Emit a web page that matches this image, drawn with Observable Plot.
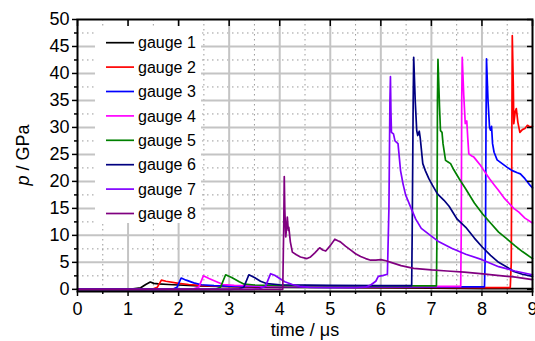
<!DOCTYPE html>
<html><head><meta charset="utf-8">
<script src="https://cdn.jsdelivr.net/npm/d3@7"></script>
<script src="https://cdn.jsdelivr.net/npm/@observablehq/plot@0.6"></script>
<style>body{margin:0;background:#fff}</style>
</head><body><div id="chart"></div>
<script>
const gaugeNames = ["gauge 1","gauge 2","gauge 3","gauge 4","gauge 5","gauge 6","gauge 7","gauge 8"];
const gaugeColors = ["#000000","#ff0000","#0000ff","#ff00ff","#008000","#000080","#8000ff","#800080"];
const xTickValues = [0,1,2,3,4,5,6,7,8,9];
const xMinorValues = [0.5,1.5,2.5,3.5,4.5,5.5,6.5,7.5,8.5];
const yTickValues = [0,5,10,15,20,25,30,35,40,45,50];
const yMinorValues = [2.5,7.5,12.5,17.5,22.5,27.5,32.5,37.5,42.5,47.5];
const xLabel = "time / μs";

const gauge1 = [[0,0],[0.9,0],[1.1,0.1],[1.25,0.3],[1.35,0.9],[1.44,1.35],[1.51,1.1],[1.6,1.0],[1.8,0.9],[2.0,0.8],[2.4,0.65],[3.0,0.5],[4.0,0.35],[5,0.3],[6,0.25],[7,0.2],[8,0.15],[9,0.15]];
const gauge2 = [[0,0],[1.3,0],[1.5,0.1],[1.58,0.4],[1.66,1.7],[1.75,1.5],[2.0,1.1],[2.2,0.9],[2.5,0.7],[3,0.55],[4,0.45],[5,0.4],[6,0.35],[7,0.35],[8,0.3],[8.56,0.3],[8.58,5],[8.59,25],[8.60,47],[8.62,38],[8.63,30.7],[8.66,33],[8.68,33.5],[8.71,31],[8.75,29.1],[8.8,29.6],[8.85,29.8],[8.9,30.4],[8.95,30.1],[9,30.2]];
const gauge3 = [[0,0],[1.7,0],[1.9,0.1],[1.97,0.4],[2.05,2.1],[2.15,1.7],[2.3,1.2],[2.45,0.85],[2.7,0.7],[3,0.6],[4,0.5],[5,0.45],[6,0.45],[7,0.45],[8.05,0.45],[8.07,8],[8.08,30],[8.09,42.7],[8.12,35],[8.15,30],[8.17,29.5],[8.19,30.2],[8.21,27],[8.24,25.4],[8.3,24],[8.4,23.3],[8.5,22.6],[8.6,22],[8.7,21.6],[8.76,21.4],[8.85,20.5],[8.95,19.3],[9,18.8]];
const gauge4 = [[0,0],[2.1,0],[2.3,0.1],[2.4,0.4],[2.49,2.5],[2.6,2.0],[2.75,1.4],[2.88,0.9],[3.1,0.75],[3.5,0.65],[4,0.6],[5,0.55],[6,0.55],[7,0.55],[7.58,0.55],[7.59,10],[7.60,35],[7.61,43],[7.64,36],[7.67,30.7],[7.70,31.2],[7.72,28],[7.74,25.1],[7.8,24.7],[7.84,24.5],[7.9,23.8],[7.97,23],[8.04,22],[8.15,20.5],[8.24,19.4],[8.33,18.3],[8.45,16.8],[8.63,15],[8.73,14.3],[8.85,13.2],[9,12.3]];
const gauge5 = [[0,0],[2.55,0],[2.75,0.1],[2.83,0.4],[2.93,2.7],[3.05,2.2],[3.2,1.4],[3.3,0.95],[3.5,0.8],[4,0.7],[5,0.65],[6,0.65],[7,0.65],[7.10,0.65],[7.11,10],[7.12,35],[7.13,42.6],[7.16,34],[7.18,29.4],[7.21,29.1],[7.23,27],[7.28,23.9],[7.33,23.6],[7.38,23.3],[7.44,22.2],[7.55,20.5],[7.68,18.6],[7.85,16],[8.01,14],[8.17,12.3],[8.33,10.6],[8.5,9.3],[8.65,8.1],[8.8,7.0],[9,5.7]];
const gauge6 = [[0,0],[3.0,0],[3.2,0.1],[3.29,0.4],[3.39,2.7],[3.5,2.2],[3.62,1.5],[3.75,1.05],[4,0.85],[5,0.75],[6,0.7],[6.61,0.7],[6.62,10],[6.64,35],[6.65,43],[6.68,35],[6.71,29.4],[6.73,28.5],[6.76,29.3],[6.78,28],[6.83,23.3],[6.88,22],[6.95,20.5],[7.02,19.3],[7.12,17.7],[7.25,16.5],[7.35,15.4],[7.51,13],[7.68,11.5],[7.85,9.5],[8.01,7.8],[8.17,6.3],[8.33,5.0],[8.5,4.1],[8.63,3.3],[8.8,2.8],[9,2.4]];
const gauge7 = [[0,0],[3.45,0],[3.6,0.1],[3.72,0.6],[3.82,2.9],[3.9,2.6],[4.0,2.0],[4.1,1.4],[4.25,0.9],[4.4,0.55],[4.6,0.35],[5,0.3],[5.5,0.3],[5.7,0.4],[5.8,0.8],[5.9,1.5],[5.95,2.4],[6.05,2.6],[6.13,2.8],[6.16,15],[6.18,35],[6.19,39.4],[6.20,33],[6.21,29.1],[6.25,28.8],[6.28,27.5],[6.34,27],[6.39,22],[6.44,19.5],[6.49,17.5],[6.6,15],[6.69,13],[6.8,11.3],[6.98,10],[7.15,8.8],[7.4,7.6],[7.68,6.5],[8.0,5.5],[8.33,4.2],[8.65,3.4],[9,2.7]];
const gauge8 = [[0,0],[4.06,0],[4.08,12],[4.09,20.9],[4.1,15],[4.12,9.7],[4.15,13.4],[4.17,10.9],[4.18,11.5],[4.21,8.8],[4.25,6.9],[4.33,6.4],[4.41,6.0],[4.54,5.7],[4.61,6.0],[4.7,6.8],[4.79,7.7],[4.85,7.3],[4.91,7.1],[5.0,8.1],[5.09,9.3],[5.15,9.0],[5.2,8.8],[5.3,8.0],[5.4,7.3],[5.5,6.6],[5.6,6.1],[5.7,5.7],[5.8,5.4],[5.9,5.4],[6.0,5.5],[6.1,5.3],[6.2,5.0],[6.4,4.4],[6.65,3.9],[7.0,3.6],[7.31,3.4],[7.65,3.2],[7.97,2.9],[8.3,2.6],[8.63,2.3],[9,1.8]];

const gauges = [gauge1,gauge2,gauge3,gauge4,gauge5,gauge6,gauge7,gauge8];
const data = gauges.flatMap((pts,i) => pts.map(([t,p]) => ({t, p, gauge: gaugeNames[i]})));
const blank = () => "";

const plot = Plot.plot({
  width: 535, height: 341,
  marginLeft: 77, marginRight: 3, marginTop: 19, marginBottom: 50,
  style: {fontFamily: "'Liberation Sans', Arial, sans-serif", fontSize: "18px", color: "#000", background: "#fff", overflow: "visible"},
  x: {domain: [0, 9], label: null},
  y: {domain: [-0.4, 50], label: null},
  color: {domain: gaugeNames, range: gaugeColors},
  marks: [
    Plot.gridX(xMinorValues, {stroke: "#9a9a9a", strokeOpacity: 1, strokeWidth: 1, strokeDasharray: "1.5,3.5"}),
    Plot.gridY(yMinorValues, {stroke: "#9a9a9a", strokeOpacity: 1, strokeWidth: 1, strokeDasharray: "1.5,3.5"}),
    Plot.gridX(xTickValues.slice(1, -1), {stroke: "#c4c4c4", strokeOpacity: 1, strokeWidth: 2}),
    Plot.gridY(yTickValues.slice(1, -1), {stroke: "#c4c4c4", strokeOpacity: 1, strokeWidth: 2}),
    Plot.line(data, {x: "t", y: "p", z: "gauge", stroke: "gauge", strokeWidth: 1.7}),
    Plot.frame({stroke: "#000", strokeWidth: 2}),
    Plot.axisX(xTickValues, {anchor: "bottom", tickSize: 5, tickPadding: 6, tickFormat: d => String(d), fontSize: 18, strokeWidth: 1.5}),
    Plot.axisX(xMinorValues, {anchor: "bottom", tickSize: 3, tickFormat: blank, strokeWidth: 1.5}),
    Plot.axisX(xTickValues, {anchor: "top", tickSize: -6, tickFormat: blank, strokeWidth: 1.5}),
    Plot.axisY(yTickValues, {anchor: "left", tickSize: 5, tickPadding: 3, tickFormat: d => String(d), fontSize: 18, strokeWidth: 1.5}),
    Plot.axisY(yMinorValues, {anchor: "left", tickSize: 3, tickFormat: blank, strokeWidth: 1.5}),
    Plot.axisY(yTickValues, {anchor: "right", tickSize: -6, tickFormat: blank, strokeWidth: 1.5}),
    Plot.text([xLabel], {frameAnchor: "bottom", lineAnchor: "bottom", dy: 44, fontSize: 18})
  ]
});

const NS = "http://www.w3.org/2000/svg";
const svgEl = plot.tagName.toLowerCase() === "svg" ? plot : plot.querySelector("svg");
const svg = d3.select(svgEl);

// y axis title with italic p
const yt = svg.append("text")
  .attr("transform", "translate(29,155) rotate(-90)")
  .attr("text-anchor", "middle")
  .attr("font-size", 18)
  .attr("fill", "#000");
yt.append("tspan").attr("font-style", "italic").text("p");
yt.append("tspan").text(" / GPa");

// legend box (covers the grid, as in the reference)
const lg = svg.append("g")
  .attr("font-size", 16)
  .attr("text-anchor", "start")
  .attr("font-family", "'Liberation Sans', Arial, sans-serif");
lg.append("rect")
  .attr("x", 95).attr("y", 26).attr("width", 106).attr("height", 197)
  .attr("fill", "#ffffff").style("fill", "#ffffff").attr("stroke", "none");
gaugeNames.forEach((name, i) => {
  const yy = 42.7 + i * 24.4;
  lg.append("line").attr("x1", 106).attr("x2", 134).attr("y1", yy).attr("y2", yy)
    .attr("stroke", gaugeColors[i]).attr("stroke-width", 1.7);
  lg.append("text").attr("x", 138).attr("y", yy).attr("dy", "0.35em")
    .attr("text-anchor", "start").attr("fill", "#000").text(name);
});

document.getElementById("chart").append(plot);
</script>
</body></html>
